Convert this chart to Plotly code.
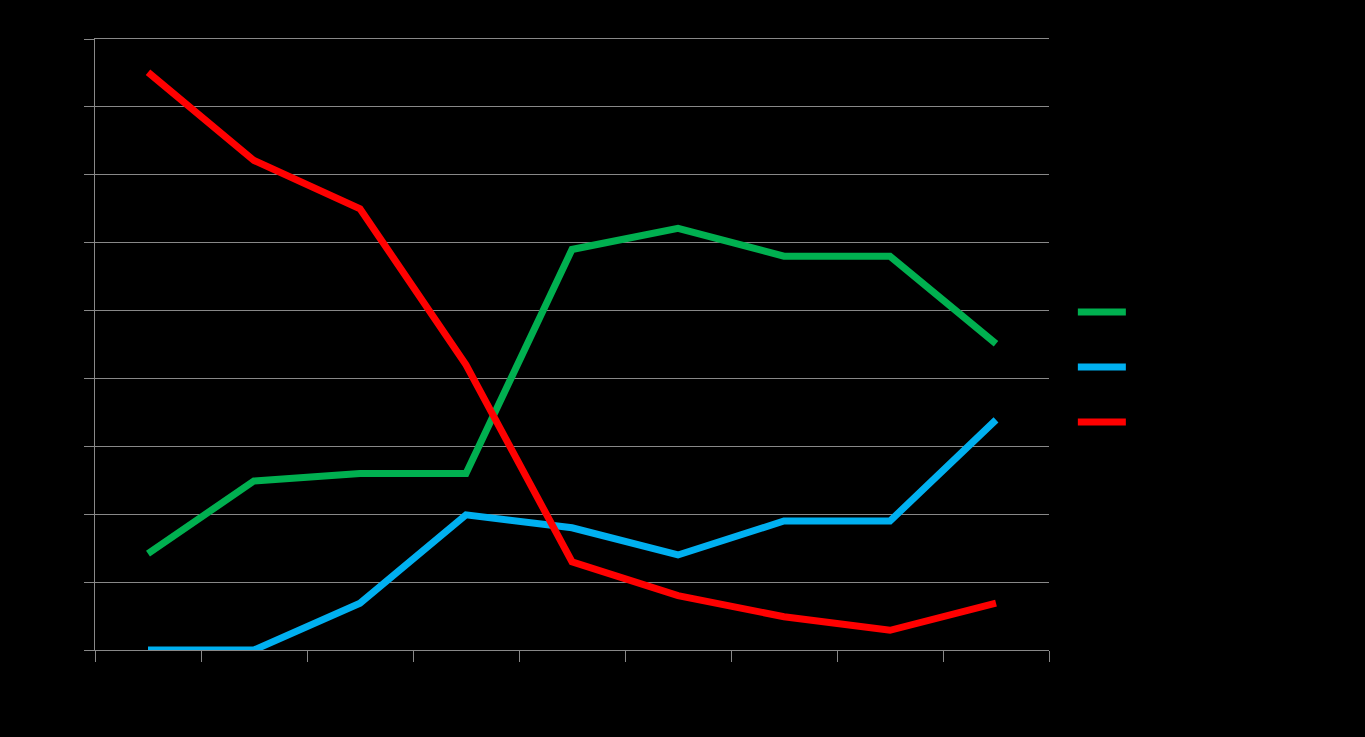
import plotly.graph_objects as go

categories = ["1", "2", "3", "4", "5", "6", "7", "8", "9"]
green_vals = [14.2, 24.9, 26.0, 26.0, 59.0, 62.1, 58.0, 58.0, 45.1]
blue_vals = [0.0, 0.0, 6.9, 19.9, 18.0, 14.0, 19.0, 19.0, 33.9]
red_vals = [85.1, 72.1, 65.0, 42.0, 13.0, 8.0, 4.9, 2.9, 6.9]
series_names = ["Series 1", "Series 2", "Series 3"]
colors = ["#00B050", "#00B0F0", "#FF0000"]

fig = go.Figure()
for name, vals, c in zip(series_names, [green_vals, blue_vals, red_vals], colors):
    fig.add_trace(go.Scatter(x=categories, y=vals, name=name, mode="lines",
                             line=dict(color=c, width=7)))

fig.update_layout(
    width=1365, height=737,
    paper_bgcolor="black", plot_bgcolor="black",
    margin=dict(l=95, r=316, t=39, b=87),
    font=dict(family="Liberation Sans", color="black", size=14),
    legend=dict(x=1.025, y=0.463, xanchor="left", yanchor="middle",
                font=dict(size=40, color="black"), itemwidth=48,
                bgcolor="rgba(0,0,0,0)"),
    xaxis=dict(type="category", range=[-0.5, 8.5], showgrid=False,
               showline=True, mirror=True, linecolor="#888888", linewidth=1,
               ticks="outside", tickson="boundaries", ticklen=11,
               tickcolor="#888888", tickfont=dict(color="black")),
    yaxis=dict(range=[0, 90], dtick=10, showgrid=True, gridcolor="#888888",
               gridwidth=1, showline=True, linecolor="#888888", linewidth=1,
               ticks="outside", ticklen=10, tickcolor="#888888",
               zeroline=False, tickfont=dict(color="black")),
)
fig.write_html("out.html")
